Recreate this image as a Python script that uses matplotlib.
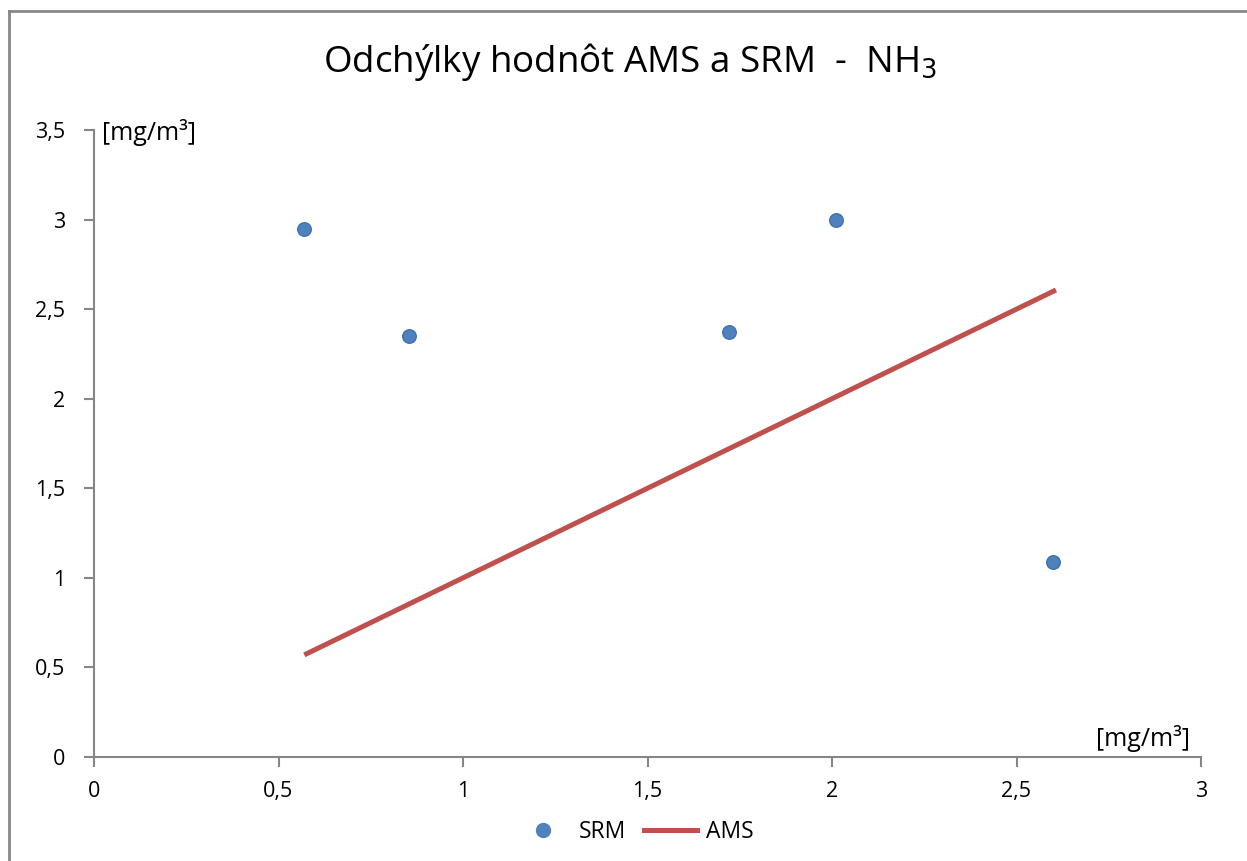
import matplotlib
matplotlib.use("Agg")
import matplotlib.pyplot as plt
from matplotlib.lines import Line2D

# values
srm_x = [0.57, 0.855, 1.72, 2.01, 2.60]
srm_y = [2.95, 2.35, 2.37, 3.00, 1.09]
ams_x = [0.57, 0.855, 1.72, 2.01, 2.607]
ams_y = [0.57, 0.855, 1.72, 2.01, 2.607]
x_ticks = [0, 0.5, 1, 1.5, 2, 2.5, 3]
y_ticks = [0, 0.5, 1, 1.5, 2, 2.5, 3, 3.5]

plt.rcParams['font.family'] = ['Open Sans', 'DejaVu Sans']

fig = plt.figure(figsize=(12.47, 8.61), dpi=100)
ax = fig.add_axes([94 / 1247, 1 - 757 / 861, (1201 - 94) / 1247, (757 - 130) / 861])

ax.plot(ams_x, ams_y, color='#C0504D', lw=3.6, solid_capstyle='butt', label='AMS', zorder=2)
ax.scatter(srm_x, srm_y, s=95, color='#4F81BD', edgecolors='#3F72B0', linewidths=1,
           label='SRM', zorder=3)

ax.set_xlim(0, 3)
ax.set_ylim(0, 3.5)
ax.set_xticks(x_ticks)
ax.set_yticks(y_ticks)
fmt = lambda v: ('%g' % v).replace('.', ',')
ax.set_xticklabels([fmt(v) for v in x_ticks])
ax.set_yticklabels([fmt(v) for v in y_ticks])

for s in ['top', 'right']:
    ax.spines[s].set_visible(False)
for s in ['left', 'bottom']:
    ax.spines[s].set_color('#868686')
    ax.spines[s].set_linewidth(1.5)
ax.tick_params(colors='#868686', labelcolor='black', labelsize=15.5, length=7, width=1.5)
ax.tick_params(axis='x', pad=10)
ax.tick_params(axis='y', pad=14)

ax.text(102 / 1247, 1 - 133 / 861, '[mg/m³]', transform=fig.transFigure,
        fontsize=18, ha='left', va='center')
ax.text(1190 / 1247, 1 - 739 / 861, '[mg/m³]', transform=fig.transFigure,
        fontsize=18, ha='right', va='center')

fig.text(630 / 1247, 1 - 62 / 861, 'Odchýlky hodnôt AMS a SRM  -  NH$_3$',
         fontsize=26.5, ha='center', va='center')

handles = [Line2D([], [], ls='none', marker='o', ms=10, color='#4F81BD'),
           Line2D([], [], color='#C0504D', lw=3.6)]
fig.legend(handles, ['SRM', 'AMS'], loc='center', bbox_to_anchor=(635 / 1247, 1 - 832 / 861),
           ncol=2, frameon=False, fontsize=16.5, handlelength=2.3, columnspacing=0.8,
           handletextpad=0.4)

# chart frame (top and left edges visible)
fig.add_artist(Line2D([9 / 1247, 1.01], [1 - 11 / 861] * 2, transform=fig.transFigure,
                      color='#888888', lw=2))
fig.add_artist(Line2D([9 / 1247] * 2, [-0.01, 1 - 11 / 861], transform=fig.transFigure,
                      color='#888888', lw=2))

fig.savefig('out.png', dpi=100)
